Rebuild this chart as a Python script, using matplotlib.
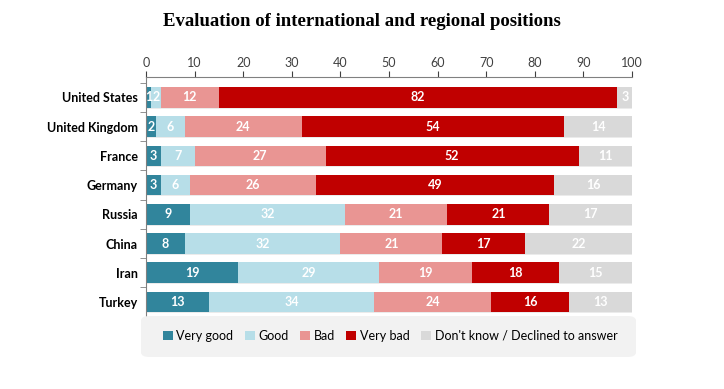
import matplotlib.pyplot as plt
from matplotlib.patches import FancyBboxPatch
import numpy as np

# === Dati ===
countries = ["United States", "United Kingdom", "France", "Germany", "Russia", "China", "Iran", "Turkey"]
very_good = [1, 2, 3, 3, 9, 8, 19, 13]
good = [2, 6, 7, 6, 32, 32, 29, 34]
bad = [12, 24, 27, 26, 21, 21, 19, 24]
very_bad = [82, 54, 52, 49, 21, 17, 18, 16]
dont_know = [3, 14, 11, 16, 17, 22, 15, 13]

series = [
    ("Very good", very_good, "#31859C"),
    ("Good", good, "#B7DEE8"),
    ("Bad", bad, "#E99593"),
    ("Very bad", very_bad, "#C00000"),
    ("Don't know / Declined to answer", dont_know, "#D9D9D9"),
]

plt.rcParams["font.family"] = ["Lato", "DejaVu Sans"]

fig = plt.figure(figsize=(7.24, 3.89), dpi=100)
ax = fig.add_axes([146 / 724, 1 - 318 / 389, (632 - 146) / 724, (318 - 77) / 389])

y = np.arange(len(countries))
left = np.zeros(len(countries))
handles = []
for name, vals, color in series:
    vals = np.array(vals)
    bars = ax.barh(y, vals, left=left, height=0.7, color=color, label=name, zorder=2)
    # ombra leggera
    ax.barh(y + 0.04, vals, left=left + 0.3, height=0.7, color="#000000", alpha=0.08, zorder=1)
    ax.bar_label(bars, labels=[str(v) for v in vals], label_type="center",
                 color="white", fontsize=9, fontweight="bold")
    left += vals
    handles.append(bars)

ax.set_xlim(0, 100)
ax.set_ylim(7.55, -0.7)
ax.xaxis.tick_top()
ax.set_xticks(range(0, 101, 10))
ax.tick_params(axis="x", labelsize=9, colors="#404040", length=4, pad=2)
ax.set_yticks(y)
ax.set_yticklabels(countries, fontsize=9, fontweight="bold")
ax.set_yticks(np.arange(-0.5, 7.5, 1), minor=True)
ax.tick_params(axis="y", which="major", length=0, pad=6)
ax.tick_params(axis="y", which="minor", length=4, color="#808080")
for s in ["right", "bottom"]:
    ax.spines[s].set_visible(False)
for s in ["top", "left"]:
    ax.spines[s].set_color("#808080")
    ax.spines[s].set_linewidth(0.8)

fig.text(0.5, 1 - 22 / 389, "Evaluation of international and regional positions",
         ha="center", va="center", fontsize=13.5, fontweight="bold", family="Liberation Serif")

# === Legenda ===
box = FancyBboxPatch((141 / 724, 1 - 357 / 389), (636 - 141) / 724, (357 - 316) / 389,
                     boxstyle="round,pad=0,rounding_size=0.012", transform=fig.transFigure,
                     facecolor="#F2F2F2", edgecolor="none", zorder=3)
fig.patches.append(box)
leg = fig.legend(handles=handles, loc="center", bbox_to_anchor=(390 / 724, 1 - 336 / 389),
                 ncol=5, frameon=False, fontsize=9, handlelength=0.8, handleheight=0.8,
                 handletextpad=0.3, columnspacing=0.9)
leg.set_zorder(4)

plt.savefig("out.png", dpi=100)
plt.close()
